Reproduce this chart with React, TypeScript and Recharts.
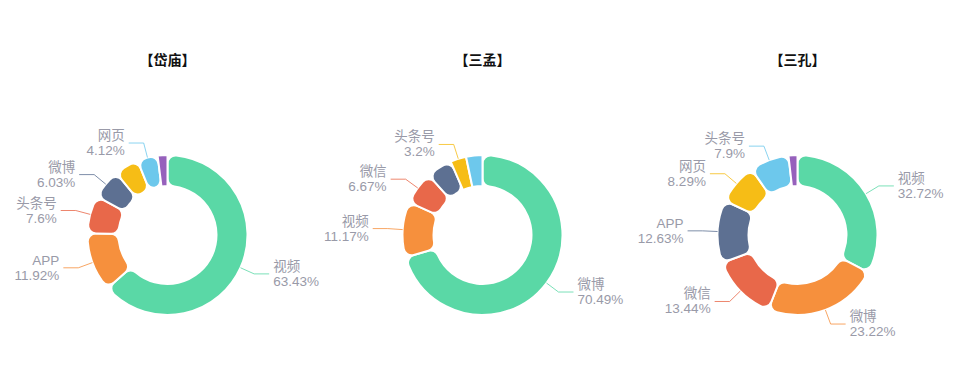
import React from 'react';
import { PieChart, Pie, Cell } from 'recharts';

const COLORS = ['#5AD8A6', '#F6903D', '#E8684A', '#5D7092', '#F6BD16', '#6DC8EC', '#9661BC'];

const titles = ['【岱庙】', '【三孟】', '【三孔】'];

const daimiaoNames = ['视频', 'APP', '头条号', '微博', '微信', '网页', '其他'];
const daimiaoValues = [63.43, 11.92, 7.6, 6.03, 4.93, 4.12, 1.97];
const daimiaoHidden = ['微信', '其他'];

const sanmengNames = ['微博', '视频', '微信', 'APP', '头条号', '网页'];
const sanmengValues = [70.49, 11.17, 6.67, 5.17, 3.2, 3.3];
const sanmengHidden = ['APP', '网页'];

const sankongNames = ['视频', '微博', '微信', 'APP', '网页', '头条号', '其他'];
const sankongValues = [32.72, 23.22, 13.44, 12.63, 8.29, 7.9, 1.8];
const sankongHidden = ['其他'];

const W = 960;
const H = 379;
const CY = 235;
const CXS = [167.5, 482.5, 797.5];
const INNER = 49;
const OUTER = 80;
const LEN1 = 15;
const LEN2 = 15;
const RAD = Math.PI / 180;
const FONT = '"Liberation Sans", Arial, "Noto Sans CJK SC", sans-serif';

const build = (names: string[], values: number[]) =>
  names.map((n, i) => ({ name: n, value: values[i] }));

const charts = [
  { data: build(daimiaoNames, daimiaoValues), hidden: daimiaoHidden },
  { data: build(sanmengNames, sanmengValues), hidden: sanmengHidden },
  { data: build(sankongNames, sankongValues), hidden: sankongHidden },
];

const makeLabel = (hidden: string[]) => (props: any) => {
  const { cx, cy, midAngle, outerRadius, index } = props;
  const name = props.name ?? props.payload?.name;
  const value = props.value ?? props.payload?.value;
  if (hidden.includes(name)) return null;
  const cos = Math.cos(-midAngle * RAD);
  const sin = Math.sin(-midAngle * RAD);
  const x0 = cx + outerRadius * cos;
  const y0 = cy + outerRadius * sin;
  const x1 = cx + (outerRadius + LEN1) * cos;
  const y1 = cy + (outerRadius + LEN1) * sin;
  const dir = cos >= 0 ? 1 : -1;
  const x2 = x1 + dir * LEN2;
  const tx = x2 + dir * 4;
  const anchor = dir > 0 ? 'start' : 'end';
  const color = COLORS[index % COLORS.length];
  return (
    <g key={`lbl-${name}`}>
      <polyline
        points={`${x0},${y0} ${x1},${y1} ${x2},${y1}`}
        fill="none"
        stroke={color}
        strokeOpacity={0.8}
        strokeWidth={1}
      />
      <text x={tx} y={y1 - 3} textAnchor={anchor} fill="#999aa8" fontSize={13.5} fontFamily={FONT}>
        {name}
      </text>
      <text x={tx} y={y1 + 12} textAnchor={anchor} fill="#999aa8" fontSize={13.5} fontFamily={FONT}>
        {`${value}%`}
      </text>
    </g>
  );
};

export default function App() {
  return (
    <div style={{ position: 'absolute', left: 0, top: 0, width: W, height: H, background: '#fff' }}>
      {titles.map((t, i) => (
        <div
          key={t}
          style={{
            position: 'absolute',
            left: CXS[i] - 60,
            width: 120,
            top: 49,
            textAlign: 'center',
            fontWeight: 'bold',
            fontSize: 14,
            lineHeight: '20px',
            color: '#111',
            fontFamily: '"Noto Sans CJK SC", sans-serif',
          }}
        >
          {t}
        </div>
      ))}
      <div style={{ position: 'absolute', left: 0, top: 0 }}>
        <PieChart width={W} height={H} margin={{ top: 0, right: 0, bottom: 0, left: 0 }}>
          {charts.map((c, ci) => (
            <Pie
              key={ci}
              data={c.data}
              dataKey="value"
              nameKey="name"
              cx={CXS[ci]}
              cy={CY}
              innerRadius={INNER}
              outerRadius={OUTER}
              startAngle={90}
              endAngle={-270}
              cornerRadius={8}
              stroke="#fff"
              strokeWidth={2}
              label={makeLabel(c.hidden)}
              labelLine={false}
              isAnimationActive={false}
            >
              {c.data.map((d, i) => (
                <Cell key={d.name} fill={COLORS[i % COLORS.length]} />
              ))}
            </Pie>
          ))}
        </PieChart>
      </div>
    </div>
  );
}
